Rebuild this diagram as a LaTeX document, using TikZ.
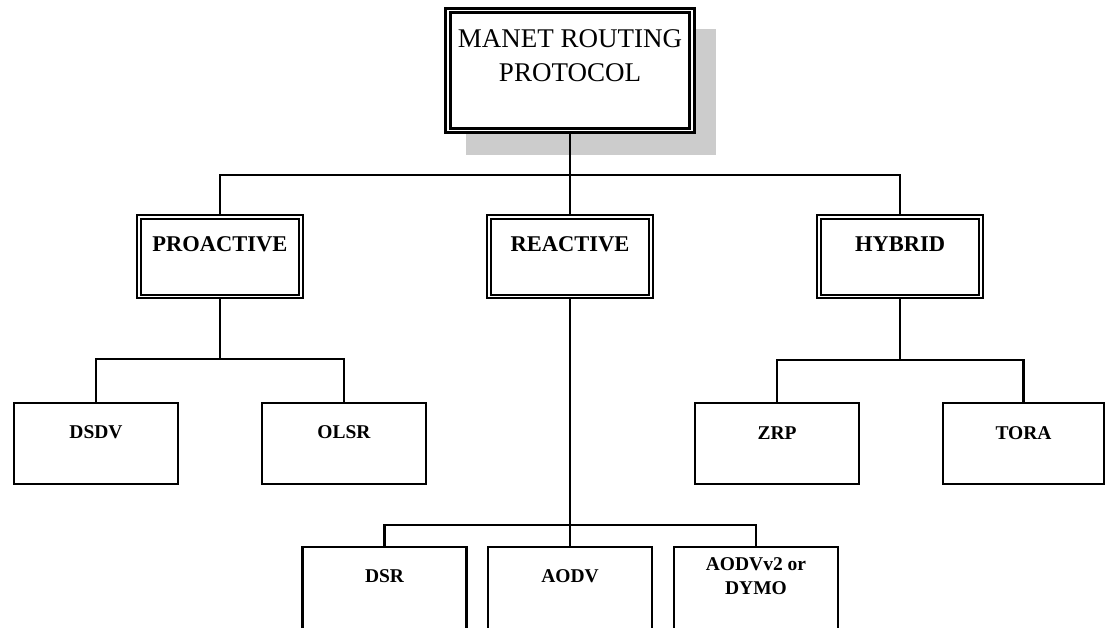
\documentclass[tikz,border=0pt]{standalone}
\usepackage{fontspec}
\setmainfont{Liberation Serif}
\begin{document}
\begin{tikzpicture}[x=1pt,y=-1pt,
  rootbox/.style={draw=black, double=white, line width=2.8pt, double distance=1.6pt,
    minimum width=244pt, minimum height=120pt, inner sep=0pt, fill=white},
  catbox/.style={draw=black, double=white, line width=2.3pt, double distance=1.3pt,
    minimum width=162pt, minimum height=79.5pt, inner sep=0pt, fill=white},
  leafbox/.style={draw=black, line width=2.6pt, minimum width=164pt,
    minimum height=81pt, inner sep=0pt, fill=white},
  roottxt/.style={font=\fontsize{27}{34}\selectfont, align=center, inner sep=0pt},
  cattxt/.style={font=\fontsize{22.5}{26}\selectfont\bfseries, inner sep=0pt},
  leaftxt/.style={font=\fontsize{19.5}{24}\selectfont\bfseries, align=center, inner sep=0pt},
  link/.style={draw=black, line width=2.6pt}]
\useasboundingbox (0,0) rectangle (1105,628);

% drop shadow behind the root box
\fill[black!20] (466,29) rectangle (716,155);

% root
\node[rootbox] (root) at (570,70.5) {};
\node[roottxt] (roott) at (570,56) {MANET ROUTING\\PROTOCOL};

% categories
\node[catbox] (pro) at (220,256.75) {};
\node[catbox] (rea) at (570,256.75) {};
\node[catbox] (hyb) at (900,256.75) {};
\node[cattxt] (prot) at ([yshift=-28pt]pro.north) {PROACTIVE};
\node[cattxt] (reat) at ([yshift=-28pt]rea.north) {REACTIVE};
\node[cattxt] (hybt) at ([yshift=-28pt]hyb.north) {HYBRID};

% proactive protocols
\node[leafbox] (dsdv) at (96,443.5) {};
\node[leafbox] (olsr) at (344,443.5) {};
\node[leaftxt] (dsdvt) at ([yshift=-30pt]dsdv.north) {DSDV};
\node[leaftxt] (olsrt) at ([yshift=-30pt]olsr.north) {OLSR};

% hybrid protocols
\node[leafbox] (zrp) at (777,443.5) {};
\node[leafbox, minimum width=161pt] (tora) at (1023.5,443.5) {};
\node[leaftxt] (zrpt) at ([yshift=-31pt]zrp.north) {ZRP};
\node[leaftxt] (torat) at ([yshift=-31pt]tora.north) {TORA};

% reactive protocols
\node[leafbox, minimum height=82pt] (dsr) at (384.5,588) {};
\node[leafbox, minimum height=82pt] (aodv) at (570,588) {};
\node[leafbox, minimum height=82pt] (dymo) at (756,588) {};
\node[leaftxt] (dsrt) at ([yshift=-30pt]dsr.north) {DSR};
\node[leaftxt] (aodvt) at ([yshift=-30pt]aodv.north) {AODV};
\node[leaftxt] (dymot) at ([yshift=-30pt]dymo.north) {AODVv2 or\\DYMO};

% junction points
\coordinate (j1) at (570,175);
\coordinate (j2) at (220,359);
\coordinate (j3) at (900,360);
\coordinate (j4) at (570,525);

% connectors
\draw[link] (root.south) -- (rea.north);
\draw[link] (pro.north) |- (j1) -| (hyb.north);
\draw[link] (pro.south) -- (j2);
\draw[link] (dsdv.north) |- (j2) -| (olsr.north);
\draw[link] (hyb.south) -- (j3);
\draw[link] (zrp.north) |- (j3) -| (tora.north);
\draw[link] (rea.south) -- (aodv.north);
\draw[link] (dsr.north) |- (j4) -| (dymo.north);
\end{tikzpicture}
\end{document}
